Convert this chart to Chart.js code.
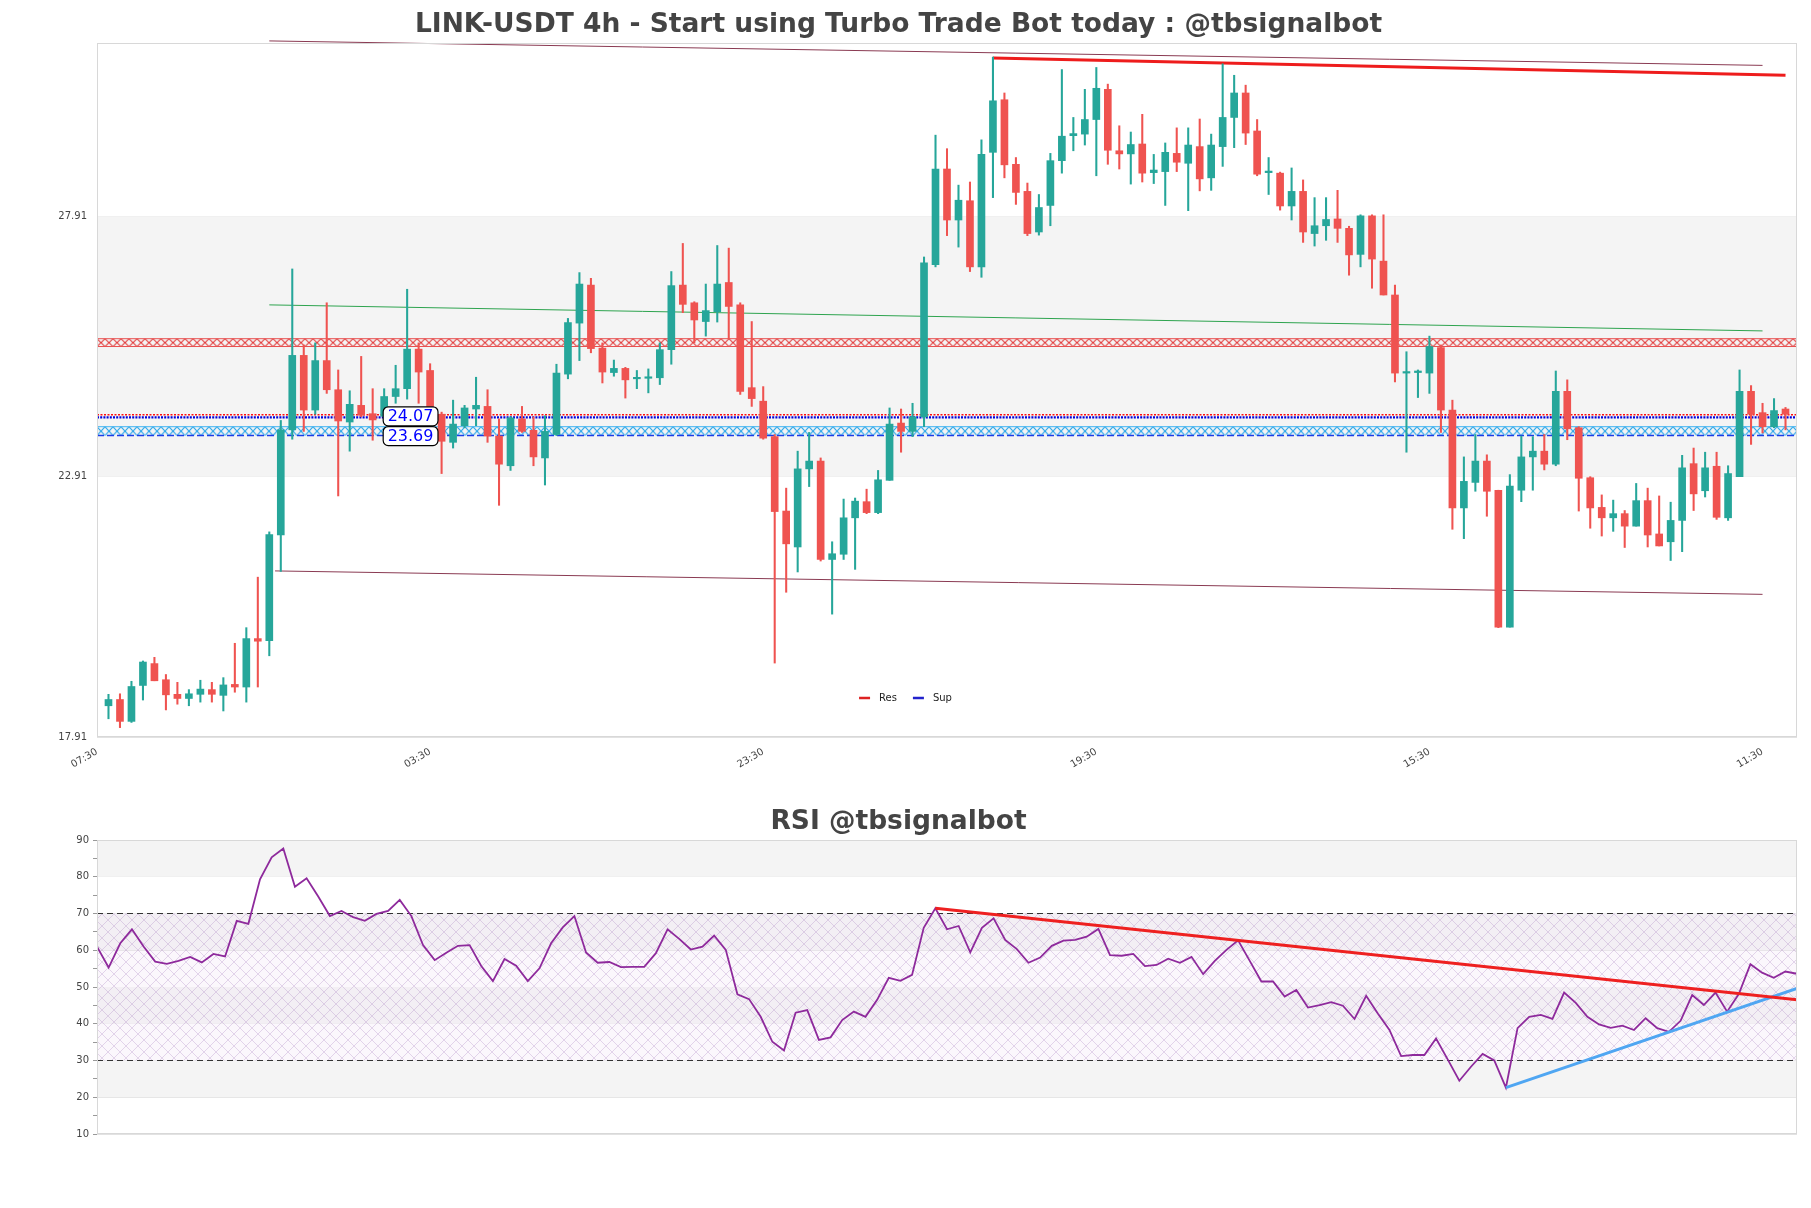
<!DOCTYPE html>
<html><head><meta charset="utf-8">
<script src="https://cdn.jsdelivr.net/npm/chart.js@4.4.1/dist/chart.umd.min.js"></script>
<style>
html,body{margin:0;padding:0;background:#fff;}
#wrap{position:relative;width:1811px;height:1208px;overflow:hidden;}
#c1{position:absolute;left:0;top:0;width:1811px;height:800px;}
#c2{position:absolute;left:0;top:800px;width:1811px;height:408px;}
</style></head><body>
<div id="wrap"><canvas id="c1" width="1811" height="800"></canvas><canvas id="c2" width="1811" height="408"></canvas></div>
<script>
// ---------------- DATA ----------------
const mainTitle = 'LINK-USDT 4h - Start using Turbo Trade Bot today : @tbsignalbot';
const rsiTitle = 'RSI @tbsignalbot';
const xTickPos = [-1, 28, 57, 86, 115, 144];
const xTickLabels = ['07:30','03:30','23:30','19:30','15:30','11:30'];
const yTickVals = [17.91, 22.91, 27.91];
const priceRange = [17.91, 31.24];
const xRange = [-1, 147];

const opens = [18.51,18.63,18.21,18.90,19.32,19.01,18.73,18.65,18.73,18.82,
18.71,18.92,18.87,19.80,19.76,21.79,23.81,25.24,24.19,25.14,
24.58,23.96,24.28,24.12,24.07,24.45,24.60,25.36,24.95,24.11,
23.57,23.89,24.21,24.26,23.69,23.12,24.02,23.80,23.27,23.72,
24.88,25.86,26.59,25.38,24.91,24.99,24.79,24.80,24.81,25.35,
26.59,26.25,25.89,26.08,26.64,26.21,24.62,24.36,23.68,22.25,
21.56,23.06,23.21,21.32,21.42,22.12,22.43,22.22,22.84,23.94,
23.78,24.06,26.98,28.82,27.84,28.21,26.94,29.14,30.15,28.91,
28.39,27.61,28.12,28.98,29.46,29.49,29.77,30.35,29.17,29.11,
29.30,28.75,28.77,29.12,28.93,29.25,28.65,29.25,29.81,30.28,
29.55,28.75,28.74,28.11,28.39,27.58,27.73,27.86,27.68,27.18,
27.92,27.05,26.40,24.90,24.91,24.90,25.39,24.19,22.31,22.80,
23.21,22.65,20.02,22.65,23.29,23.40,23.15,24.55,23.85,22.89,
22.32,22.12,22.20,21.96,22.45,21.81,21.66,22.07,23.16,22.64,
23.11,22.12,22.91,24.55,24.14,23.87,24.21];
const highs = [18.73,18.74,18.98,19.37,19.44,19.11,18.96,18.82,19.00,18.96,
19.05,19.71,20.01,20.98,21.85,23.99,26.90,25.44,25.48,26.25,
24.96,24.56,25.22,24.60,24.60,25.05,26.51,25.48,25.08,24.15,
24.38,24.28,24.82,24.58,24.02,24.06,24.26,24.06,24.08,25.07,
25.95,26.83,26.72,25.48,25.15,25.01,24.95,24.98,25.48,26.85,
27.39,26.27,26.61,27.35,27.30,26.25,25.89,24.64,23.72,22.69,
23.40,23.76,23.27,21.66,22.48,22.50,22.67,23.03,24.23,24.21,
24.32,27.13,29.47,29.21,28.51,28.57,29.38,30.97,30.28,29.04,
28.55,28.33,29.12,30.73,29.81,30.35,30.77,30.45,29.65,29.53,
29.87,29.10,29.32,29.61,29.61,29.78,29.49,30.84,30.62,30.43,
29.77,29.04,28.76,28.84,28.61,28.27,28.27,28.41,27.72,27.94,
27.94,27.94,26.59,25.31,24.96,25.61,25.44,24.38,23.29,23.72,
23.33,22.65,22.95,23.69,23.68,23.72,24.94,24.77,23.87,22.91,
22.56,22.46,22.26,22.78,22.69,22.54,22.42,23.32,23.46,23.38,
23.38,23.12,24.96,24.66,24.32,24.41,24.24];
const lows = [18.26,18.09,18.19,18.62,18.99,18.43,18.54,18.51,18.58,18.58,
18.41,18.77,18.58,18.87,19.47,21.09,23.63,23.78,24.11,24.51,
22.54,23.40,24.06,23.61,23.95,24.32,24.40,24.32,24.00,22.97,
23.46,23.85,23.89,23.57,22.36,23.03,23.76,23.12,22.75,23.70,
24.79,25.14,25.29,24.71,24.84,24.42,24.60,24.52,24.68,25.07,
26.06,25.48,25.61,25.88,25.56,24.49,24.26,23.63,19.33,20.69,
21.08,22.72,21.29,20.27,21.32,21.13,22.20,22.20,22.84,23.38,
23.68,23.87,26.94,27.54,27.32,26.85,26.74,28.27,28.65,28.14,
27.54,27.55,27.73,28.74,29.17,29.28,28.69,28.91,28.82,28.53,
28.57,28.54,28.12,28.77,28.02,28.40,28.41,28.87,29.23,29.29,
28.69,28.33,28.03,27.84,27.41,27.34,27.45,27.41,26.78,26.94,
26.53,26.40,24.73,23.38,24.43,24.51,23.76,21.90,21.72,22.63,
22.15,20.01,20.02,22.43,22.65,23.04,23.12,23.62,22.25,21.92,
21.77,21.86,21.55,21.96,21.56,21.58,21.30,21.47,22.26,22.52,
22.09,22.07,22.91,23.53,23.75,23.85,23.81];
const closes = [18.63,18.21,18.88,19.35,18.99,18.72,18.65,18.74,18.83,18.73,
18.91,18.87,19.80,19.75,21.80,23.81,25.24,24.19,25.14,24.58,
23.98,24.30,24.09,24.00,24.45,24.60,25.36,24.92,24.19,23.59,
23.92,24.23,24.28,23.69,23.15,24.04,23.78,23.29,23.78,24.90,
25.87,26.61,25.37,24.92,24.99,24.77,24.81,24.82,25.35,26.58,
26.22,25.92,26.10,26.61,26.18,24.55,24.41,23.65,22.24,21.62,
23.06,23.21,21.32,21.43,22.12,22.44,22.22,22.85,23.92,23.78,
24.06,27.02,28.82,27.84,28.22,26.94,29.10,30.13,28.90,28.37,
27.58,28.08,28.98,29.45,29.50,29.77,30.37,29.18,29.11,29.29,
28.74,28.80,29.14,28.95,29.28,28.63,29.28,29.81,30.28,29.51,
28.72,28.78,28.11,28.39,27.61,27.73,27.85,27.68,27.17,27.92,
27.09,26.40,24.90,24.92,24.94,25.41,24.19,22.31,22.82,23.21,
22.63,20.02,22.73,23.29,23.40,23.15,24.55,23.83,22.88,22.31,
22.12,22.20,21.96,22.45,21.79,21.58,22.07,23.08,22.58,23.08,
22.13,22.97,24.55,24.11,23.87,24.18,24.11];

// levels and trend lines (price space)
const shadeBand = [22.91, 27.91];
const resBand = [25.41, 25.56];
const supBand = [23.70, 23.87];
const pivotRes = 24.10, pivotSup = 24.05;
const boxLabelValues = [24.07, 23.69];
const boxLabelX = 26.3;
const upperChannel = [[14, 31.28], [144, 30.81]];
const lowerChannel = [[14.5, 21.10], [144, 20.65]];
const midLine = [[14, 26.21], [144, 25.71]];
const resTrend = [[77, 30.95], [146, 30.62]];
const legendItems = [{text:'Res', color:'#dd2222'}, {text:'Sup', color:'#2222cc'}];

// RSI
const rsi = [61.0,55.3,61.9,65.7,61.0,56.9,56.3,57.1,58.2,56.7,
59.0,58.3,68.0,67.2,79.3,85.3,87.7,77.3,79.6,74.6,
69.3,70.7,69.0,68.0,69.9,70.7,73.7,69.3,61.4,57.3,
59.3,61.2,61.4,55.7,51.6,57.6,55.8,51.6,55.1,61.9,
66.2,69.3,59.4,56.6,56.8,55.4,55.5,55.5,59.2,65.7,
63.1,60.2,61.0,64.0,60.1,48.0,46.7,41.9,35.1,32.7,
43.0,43.7,35.6,36.3,41.0,43.3,41.9,46.5,52.5,51.7,
53.3,66.1,71.4,65.7,66.6,59.4,66.1,68.7,62.8,60.3,
56.6,58.0,61.2,62.6,62.8,63.7,65.8,58.7,58.5,59.0,
55.7,56.0,57.7,56.6,58.2,53.5,57.1,60.1,62.7,57.1,
51.5,51.5,47.4,49.2,44.4,45.1,45.9,44.9,41.3,47.6,
42.8,38.3,31.2,31.5,31.5,36.0,30.3,24.5,28.3,31.8,
30.0,22.6,38.8,41.9,42.4,41.3,48.5,45.7,41.9,39.8,
38.9,39.5,38.3,41.5,38.8,37.8,40.8,47.8,45.1,48.5,
43.3,48.1,56.2,53.9,52.5,54.2,53.6];
const rsiRange = [10, 90];
const rsiGrayBands = [[20,30],[40,50],[60,70],[80,90]];
const rsiLevels = [30, 70];
const rsiResTrend = [[72, 71.4], [146, 46.5]];
const rsiSupTrend = [[121, 22.6], [146, 49.6]];

// ---------------- HELPERS ----------------
Chart.defaults.font.family = "'DejaVu Sans', sans-serif";
Chart.defaults.animation = false;
const UP = '#26a69a', DOWN = '#ef5350';
const hline = (v, r) => [{x:r[0], y:v}, {x:r[1], y:v}];
const seg = p => p.map(([x, y]) => ({x, y}));
const TILE = 8;
function xPattern(color, w, h, lw, bg){
  const c = document.createElement('canvas'); c.width = w; c.height = h;
  const g = c.getContext('2d');
  if (bg){ g.fillStyle = bg; g.fillRect(0,0,w,h); }
  g.strokeStyle = color; g.lineWidth = lw;
  g.beginPath(); g.moveTo(0,0); g.lineTo(w,h); g.moveTo(0,h); g.lineTo(w,0); g.stroke();
  return g.createPattern(c, 'repeat');
}
const resPat = xPattern('#e23a3a', TILE, TILE, 1.1);
const supPat = xPattern('#2aa6ea', TILE, TILE, 1.1);
const rsiPat = xPattern('rgba(175,135,195,0.32)', 12, 12, 1, 'rgba(240,225,245,0.25)');

const framePlugin = {
  id:'frame',
  afterDraw(chart){
    const {ctx, chartArea:a} = chart;
    ctx.save(); ctx.strokeStyle = '#d8d8d8'; ctx.lineWidth = 1;
    ctx.strokeRect(a.left+0.5, a.top+0.5, a.right-a.left-1, a.bottom-a.top-1);
    ctx.restore();
  }
};
const patternPlugin = {
  id:'patAlign',
  beforeDatasetsDraw(chart){
    const y = chart.scales.y, L = chart.chartArea.left;
    [[resPat, resBand], [supPat, supBand]].forEach(([p, b]) => {
      const t = y.getPixelForValue(b[1]), bt = y.getPixelForValue(b[0]);
      p.setTransform(new DOMMatrix().translate(L, t).scale(1, (bt - t) / TILE));
    });
  }
};
const boxLabelPlugin = {
  id:'boxLabels',
  afterDatasetsDraw(chart){
    const {ctx, scales:{x, y}} = chart;
    ctx.save(); ctx.font = '16px "DejaVu Sans"';
    let prevBottom = -Infinity;
    const cx = x.getPixelForValue(boxLabelX);
    boxLabelValues.forEach(v => {
      const txt = v.toFixed(2), w = ctx.measureText(txt).width + 9, h = 19;
      const cy = Math.max(y.getPixelForValue(v), prevBottom + h/2);
      const top = cy - h/2; prevBottom = top + h;
      ctx.beginPath(); ctx.roundRect(cx - w/2, top, w, h, 5);
      ctx.fillStyle = '#fff'; ctx.fill(); ctx.lineWidth = 1.2; ctx.strokeStyle = '#000'; ctx.stroke();
      ctx.fillStyle = '#0000ff'; ctx.textAlign = 'center'; ctx.textBaseline = 'middle';
      ctx.fillText(txt, cx, cy + 1);
    });
    ctx.restore();
  }
};
const miniLegend = {
  id:'miniLegend',
  afterDraw(chart){
    const {ctx, chartArea:a} = chart;
    ctx.save(); ctx.font = '10px "DejaVu Sans"'; ctx.textBaseline = 'middle';
    const sg = 11, gap = 9, sp = 16;
    let total = 0;
    legendItems.forEach(it => total += sg + gap + ctx.measureText(it.text).width);
    total += sp * (legendItems.length - 1);
    let xx = chart.width/2 - total/2; const yy = a.bottom - 39;
    legendItems.forEach(it => {
      ctx.strokeStyle = it.color; ctx.lineWidth = 2.5;
      ctx.beginPath(); ctx.moveTo(xx, yy); ctx.lineTo(xx + sg, yy); ctx.stroke();
      xx += sg + gap; ctx.fillStyle = '#222'; ctx.fillText(it.text, xx, yy);
      xx += ctx.measureText(it.text).width + sp;
    });
    ctx.restore();
  }
};

// ---------------- MAIN CHART ----------------
const idx = closes.map((_, i) => i);
const candleCol = idx.map(i => closes[i] >= opens[i] ? UP : DOWN);
const lineDs = (data, color, width, order, extra) => Object.assign({
  type:'line', data, borderColor:color, borderWidth:width, pointRadius:0, fill:false, order, tension:0
}, extra || {});

new Chart(document.getElementById('c1'), {
  type:'bar',
  data:{ datasets:[
    {type:'bar', label:'body', data: idx.map(i => ({x:i, y:[opens[i], closes[i]]})), backgroundColor:candleCol,
      barThickness:7, minBarLength:1.5, grouped:false, order:1},
    {type:'bar', label:'wick', data: idx.map(i => ({x:i, y:[lows[i], highs[i]]})), backgroundColor:candleCol,
      barThickness:1.4, grouped:false, order:2},
    lineDs(seg(resTrend), '#ee1c1c', 3, 3),
    lineDs(seg(upperChannel), '#8a3a52', 1, 6, {clip:false}),
    lineDs(seg(lowerChannel), '#8a3a52', 1, 6),
    lineDs(seg(midLine), '#2ea44f', 1, 6),
    lineDs(hline(pivotRes, xRange), '#ff1010', 1.6, 7, {borderDash:[2,1.5]}),
    lineDs(hline(pivotSup, xRange), '#0000dd', 2.4, 8, {borderDash:[2,1.2]}),
    lineDs(hline(resBand[0], xRange), '#e85050', 1, 9, {fill:{value:resBand[1]}, backgroundColor:resPat}),
    lineDs(hline(resBand[1], xRange), '#e85050', 1, 9),
    lineDs(hline(supBand[0], xRange), '#1a3ce8', 1.6, 9, {borderDash:[7,3], fill:{value:supBand[1]}, backgroundColor:supPat}),
    lineDs(hline(supBand[1], xRange), '#40b4f2', 1, 9),
    lineDs(hline(shadeBand[0], xRange), 'rgba(0,0,0,0)', 0, 20, {fill:{value:shadeBand[1]}, backgroundColor:'#f4f4f4'})
  ]},
  options:{
    responsive:false, maintainAspectRatio:false,
    layout:{padding:{left:0, right:14, top:0, bottom:0}},
    plugins:{
      legend:{display:false}, tooltip:{enabled:false},
      title:{display:true, text:mainTitle, color:'#444', font:{size:26.5, weight:'bold'}, padding:{top:9, bottom:2.2}}
    },
    scales:{
      x:{type:'linear', min:xRange[0], max:xRange[1], offset:false,
        grid:{display:false, offset:false}, border:{display:false},
        afterBuildTicks(s){ s.ticks = xTickPos.map(v => ({value:v})); },
        afterFit(s){ s.height = 63; },
        ticks:{autoSkip:false, minRotation:30, maxRotation:30, padding:1, color:'#444', font:{size:10},
          callback:(v) => { const k = xTickPos.indexOf(v); return k >= 0 ? xTickLabels[k] : ''; }}
      },
      y:{min:priceRange[0], max:priceRange[1],
        grid:{color:'#e2e2e2', drawTicks:false}, border:{display:false},
        afterBuildTicks(s){ s.ticks = yTickVals.map(v => ({value:v})); },
        afterFit(s){ s.width = 97; },
        ticks:{padding:10, color:'#444', font:{size:10}, callback:(v) => Number(v).toFixed(2)}
      }
    }
  },
  plugins:[patternPlugin, boxLabelPlugin, miniLegend, framePlugin]
});

// ---------------- RSI CHART ----------------
const rsiX = [0, rsi.length - 1];
const rsiDatasets = [
  lineDs(seg(rsiResTrend), '#ee2020', 3, 1),
  lineDs(seg(rsiSupTrend), '#4fa6f2', 3, 1),
  lineDs(rsi.map((v, i) => ({x:i, y:v})), '#8e2a9c', 1.8, 2),
  ...rsiLevels.map(l => lineDs(hline(l, rsiX), '#333', 1.2, 5, {borderDash:[6,4]})),
  lineDs(hline(rsiLevels[0], rsiX), 'rgba(0,0,0,0)', 0, 15, {fill:{value:rsiLevels[1]}, backgroundColor:rsiPat}),
  ...rsiGrayBands.map(b => lineDs(hline(b[0], rsiX), 'rgba(0,0,0,0)', 0, 20, {fill:{value:b[1]}, backgroundColor:'#f4f4f4'}))
];
new Chart(document.getElementById('c2'), {
  type:'line',
  data:{datasets: rsiDatasets},
  options:{
    responsive:false, maintainAspectRatio:false,
    layout:{padding:{left:0, right:14, top:0, bottom:74}},
    plugins:{
      legend:{display:false}, tooltip:{enabled:false},
      title:{display:true, text:rsiTitle, color:'#444', font:{size:26.5, weight:'bold'}, padding:{top:6, bottom:2.2}}
    },
    scales:{
      x:{type:'linear', min:rsiX[0], max:rsiX[1], display:false},
      y:{min:rsiRange[0], max:rsiRange[1], border:{display:false},
        grid:{color:(c) => (c.tick && c.tick.value % 10 === 0) ? '#e2e2e2' : 'rgba(0,0,0,0)', tickColor:'#999', tickLength:4},
        afterFit(s){ s.width = 97; },
        ticks:{stepSize:5, padding:4, color:'#444', font:{size:10}, autoSkip:false,
          callback:(v) => v % 10 === 0 ? String(v) : ''}
      }
    }
  },
  plugins:[framePlugin]
});
</script>
</body></html>
